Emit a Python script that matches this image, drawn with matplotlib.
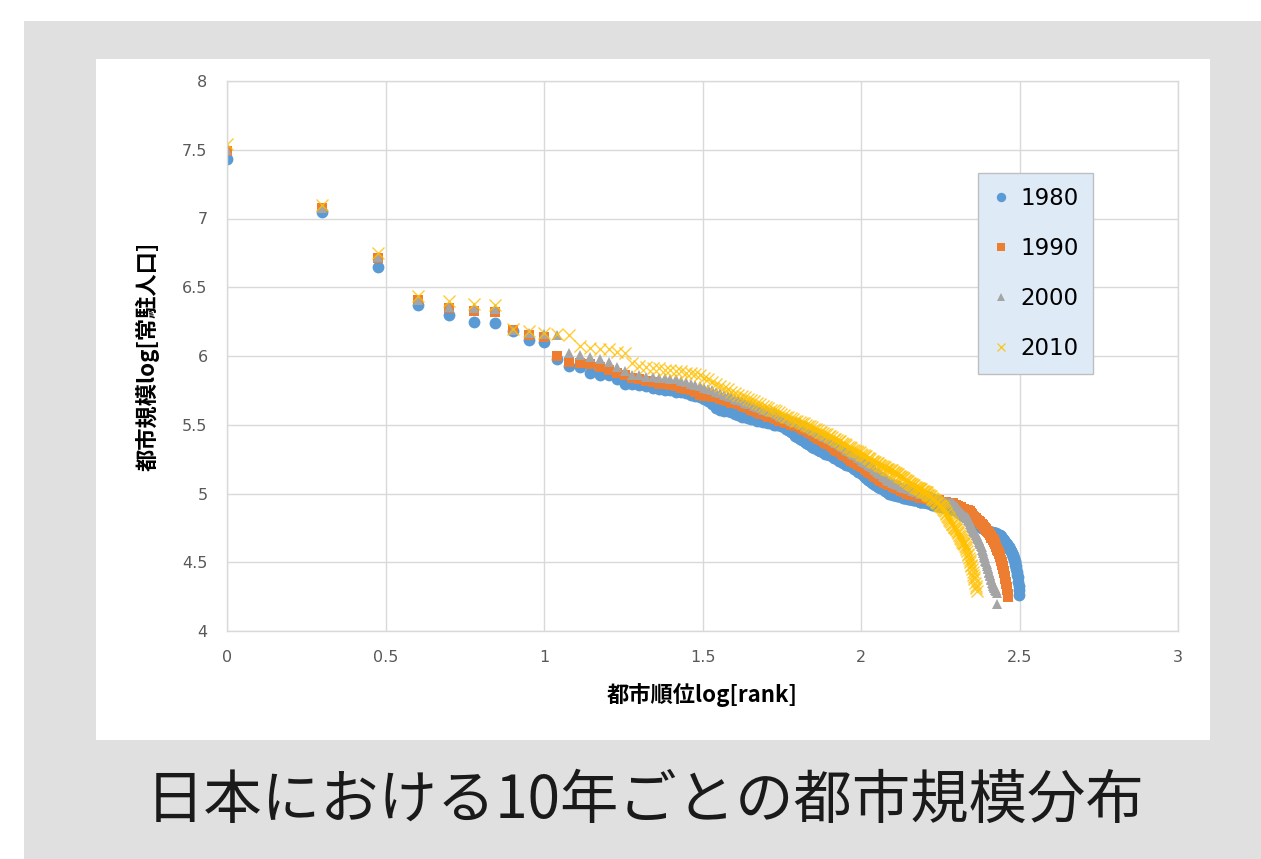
import numpy as np
import matplotlib
matplotlib.use("agg")
from matplotlib import pyplot as plt
from matplotlib.patches import Rectangle

JP = ["Noto Sans CJK JP", "DejaVu Sans"]

# log10(population) by city rank
pop_1980 = [
    7.43, 7.05, 6.65, 6.37, 6.30, 6.25, 6.24, 6.18, 6.12, 6.10,
    5.98, 5.93, 5.92, 5.88, 5.86, 5.86, 5.83, 5.80, 5.80, 5.79,
    5.78, 5.77, 5.76, 5.75, 5.75, 5.74, 5.74, 5.73, 5.72, 5.71,
    5.70, 5.69, 5.67, 5.65, 5.62, 5.61, 5.60, 5.60, 5.59, 5.58,
    5.57, 5.56, 5.56, 5.55, 5.54, 5.54, 5.53, 5.53, 5.52, 5.52,
    5.51, 5.51, 5.50, 5.50, 5.50, 5.49, 5.48, 5.47, 5.46, 5.45,
    5.44, 5.42, 5.41, 5.40, 5.39, 5.38, 5.37, 5.36, 5.35, 5.34,
    5.33, 5.33, 5.32, 5.31, 5.31, 5.30, 5.29, 5.29, 5.28, 5.28,
    5.27, 5.26, 5.26, 5.25, 5.24, 5.24, 5.23, 5.22, 5.22, 5.21,
    5.21, 5.20, 5.20, 5.19, 5.18, 5.18, 5.17, 5.16, 5.16, 5.15,
    5.14, 5.13, 5.12, 5.11, 5.10, 5.10, 5.09, 5.08, 5.08, 5.07,
    5.06, 5.06, 5.05, 5.05, 5.04, 5.04, 5.03, 5.03, 5.02, 5.02,
    5.01, 5.01, 5.00, 5.00, 5.00, 4.99, 4.99, 4.99, 4.99, 4.98,
    4.98, 4.98, 4.98, 4.98, 4.98, 4.97, 4.97, 4.97, 4.97, 4.97,
    4.96, 4.96, 4.96, 4.96, 4.96, 4.95, 4.95, 4.95, 4.95, 4.95,
    4.95, 4.95, 4.94, 4.94, 4.94, 4.94, 4.94, 4.94, 4.94, 4.94,
    4.94, 4.93, 4.93, 4.93, 4.93, 4.93, 4.93, 4.92, 4.92, 4.92,
    4.92, 4.92, 4.92, 4.91, 4.91, 4.91, 4.91, 4.91, 4.91, 4.90,
    4.90, 4.90, 4.90, 4.90, 4.90, 4.90, 4.90, 4.90, 4.89, 4.89,
    4.89, 4.89, 4.89, 4.89, 4.89, 4.89, 4.89, 4.88, 4.88, 4.88,
    4.87, 4.87, 4.87, 4.86, 4.86, 4.86, 4.85, 4.85, 4.85, 4.84,
    4.84, 4.84, 4.83, 4.83, 4.83, 4.82, 4.82, 4.82, 4.82, 4.81,
    4.81, 4.81, 4.80, 4.80, 4.80, 4.80, 4.79, 4.79, 4.79, 4.78,
    4.78, 4.78, 4.77, 4.77, 4.77, 4.77, 4.76, 4.76, 4.76, 4.75,
    4.75, 4.75, 4.75, 4.74, 4.74, 4.74, 4.74, 4.73, 4.73, 4.73,
    4.73, 4.73, 4.72, 4.72, 4.72, 4.72, 4.72, 4.72, 4.72, 4.71,
    4.71, 4.71, 4.71, 4.71, 4.71, 4.71, 4.70, 4.70, 4.70, 4.70,
    4.70, 4.70, 4.70, 4.70, 4.69, 4.69, 4.68, 4.68, 4.67, 4.67,
    4.66, 4.66, 4.65, 4.65, 4.64, 4.64, 4.63, 4.63, 4.62, 4.62,
    4.62, 4.61, 4.61, 4.60, 4.60, 4.59, 4.58, 4.58, 4.57, 4.56,
    4.55, 4.54, 4.53, 4.52, 4.51, 4.50, 4.48, 4.47, 4.45, 4.43,
    4.41, 4.39, 4.36, 4.33, 4.30, 4.26,
]

pop_1990 = [
    7.49, 7.08, 6.71, 6.41, 6.35, 6.33, 6.32, 6.19, 6.15, 6.14,
    6.00, 5.96, 5.95, 5.94, 5.92, 5.90, 5.88, 5.86, 5.84, 5.83,
    5.82, 5.81, 5.80, 5.80, 5.79, 5.78, 5.77, 5.76, 5.75, 5.74,
    5.72, 5.71, 5.71, 5.70, 5.70, 5.69, 5.68, 5.67, 5.66, 5.66,
    5.65, 5.64, 5.63, 5.62, 5.61, 5.60, 5.59, 5.58, 5.58, 5.57,
    5.56, 5.56, 5.55, 5.54, 5.53, 5.53, 5.52, 5.51, 5.51, 5.50,
    5.50, 5.49, 5.49, 5.48, 5.47, 5.46, 5.46, 5.45, 5.44, 5.43,
    5.42, 5.41, 5.40, 5.40, 5.39, 5.38, 5.37, 5.36, 5.36, 5.35,
    5.34, 5.33, 5.32, 5.31, 5.31, 5.30, 5.29, 5.28, 5.27, 5.27,
    5.26, 5.25, 5.24, 5.24, 5.23, 5.22, 5.22, 5.21, 5.21, 5.20,
    5.19, 5.19, 5.18, 5.17, 5.16, 5.16, 5.15, 5.14, 5.14, 5.13,
    5.12, 5.12, 5.11, 5.10, 5.10, 5.09, 5.09, 5.08, 5.08, 5.08,
    5.07, 5.07, 5.06, 5.06, 5.06, 5.05, 5.05, 5.04, 5.04, 5.04,
    5.03, 5.03, 5.03, 5.02, 5.02, 5.02, 5.01, 5.01, 5.01, 5.00,
    5.00, 5.00, 5.00, 4.99, 4.99, 4.99, 4.99, 4.98, 4.98, 4.98,
    4.98, 4.98, 4.98, 4.97, 4.97, 4.97, 4.97, 4.97, 4.97, 4.97,
    4.97, 4.96, 4.96, 4.96, 4.96, 4.96, 4.96, 4.96, 4.95, 4.95,
    4.95, 4.95, 4.95, 4.95, 4.95, 4.95, 4.94, 4.94, 4.94, 4.94,
    4.94, 4.94, 4.94, 4.94, 4.94, 4.93, 4.93, 4.93, 4.93, 4.93,
    4.93, 4.93, 4.93, 4.93, 4.93, 4.92, 4.92, 4.92, 4.92, 4.91,
    4.91, 4.91, 4.91, 4.90, 4.90, 4.90, 4.90, 4.89, 4.89, 4.89,
    4.89, 4.89, 4.88, 4.88, 4.88, 4.88, 4.88, 4.87, 4.87, 4.87,
    4.86, 4.86, 4.85, 4.85, 4.84, 4.84, 4.83, 4.83, 4.82, 4.82,
    4.81, 4.81, 4.80, 4.80, 4.80, 4.79, 4.79, 4.79, 4.78, 4.78,
    4.78, 4.77, 4.77, 4.76, 4.76, 4.75, 4.74, 4.74, 4.73, 4.73,
    4.72, 4.72, 4.71, 4.71, 4.70, 4.70, 4.69, 4.68, 4.68, 4.67,
    4.66, 4.66, 4.65, 4.64, 4.63, 4.62, 4.61, 4.60, 4.59, 4.58,
    4.58, 4.57, 4.56, 4.55, 4.54, 4.52, 4.51, 4.50, 4.48, 4.47,
    4.45, 4.44, 4.42, 4.40, 4.38, 4.36, 4.34, 4.32, 4.30, 4.27,
    4.25,
]

pop_2000 = [
    7.50, 7.08, 6.72, 6.41, 6.36, 6.35, 6.34, 6.19, 6.17, 6.16,
    6.15, 6.02, 6.01, 5.99, 5.98, 5.96, 5.92, 5.89, 5.86, 5.86,
    5.85, 5.85, 5.84, 5.84, 5.83, 5.83, 5.82, 5.81, 5.80, 5.79,
    5.78, 5.77, 5.76, 5.75, 5.74, 5.73, 5.72, 5.71, 5.70, 5.69,
    5.68, 5.67, 5.66, 5.65, 5.65, 5.64, 5.63, 5.62, 5.61, 5.61,
    5.60, 5.59, 5.59, 5.58, 5.57, 5.56, 5.55, 5.55, 5.54, 5.53,
    5.53, 5.52, 5.52, 5.51, 5.50, 5.50, 5.49, 5.48, 5.47, 5.46,
    5.46, 5.45, 5.44, 5.43, 5.43, 5.42, 5.41, 5.41, 5.40, 5.40,
    5.39, 5.38, 5.37, 5.37, 5.36, 5.35, 5.34, 5.34, 5.33, 5.32,
    5.31, 5.31, 5.30, 5.29, 5.28, 5.28, 5.27, 5.26, 5.26, 5.25,
    5.24, 5.23, 5.23, 5.22, 5.21, 5.21, 5.20, 5.19, 5.19, 5.18,
    5.17, 5.16, 5.16, 5.15, 5.14, 5.14, 5.13, 5.12, 5.12, 5.11,
    5.10, 5.10, 5.09, 5.09, 5.08, 5.08, 5.08, 5.07, 5.07, 5.07,
    5.06, 5.06, 5.06, 5.05, 5.05, 5.05, 5.04, 5.04, 5.04, 5.04,
    5.03, 5.03, 5.03, 5.03, 5.02, 5.02, 5.02, 5.02, 5.01, 5.01,
    5.01, 5.01, 5.01, 5.00, 5.00, 5.00, 5.00, 5.00, 5.00, 4.99,
    4.99, 4.99, 4.99, 4.98, 4.98, 4.98, 4.98, 4.97, 4.97, 4.97,
    4.97, 4.96, 4.96, 4.96, 4.96, 4.95, 4.95, 4.95, 4.95, 4.94,
    4.94, 4.94, 4.94, 4.94, 4.93, 4.93, 4.93, 4.93, 4.93, 4.93,
    4.93, 4.93, 4.93, 4.93, 4.93, 4.92, 4.92, 4.91, 4.91, 4.90,
    4.90, 4.89, 4.89, 4.88, 4.87, 4.87, 4.86, 4.86, 4.85, 4.85,
    4.84, 4.84, 4.84, 4.83, 4.83, 4.83, 4.82, 4.81, 4.80, 4.79,
    4.78, 4.77, 4.76, 4.75, 4.74, 4.73, 4.73, 4.72, 4.71, 4.70,
    4.70, 4.69, 4.68, 4.67, 4.66, 4.65, 4.64, 4.63, 4.62, 4.61,
    4.59, 4.58, 4.57, 4.55, 4.54, 4.53, 4.51, 4.50, 4.49, 4.47,
    4.46, 4.45, 4.43, 4.42, 4.41, 4.40, 4.38, 4.37, 4.35, 4.34,
    4.33, 4.32, 4.31, 4.31, 4.30, 4.30, 4.29, 4.28, 4.20,
]

pop_2010 = [
    7.54, 7.10, 6.75, 6.44, 6.40, 6.38, 6.37, 6.20, 6.18, 6.17,
    6.16, 6.15, 6.07, 6.06, 6.05, 6.05, 6.03, 6.02, 5.95, 5.93,
    5.92, 5.91, 5.91, 5.90, 5.90, 5.89, 5.89, 5.88, 5.88, 5.87,
    5.86, 5.84, 5.83, 5.81, 5.80, 5.78, 5.77, 5.76, 5.74, 5.73,
    5.72, 5.71, 5.70, 5.69, 5.68, 5.67, 5.66, 5.65, 5.64, 5.63,
    5.62, 5.61, 5.61, 5.60, 5.59, 5.58, 5.57, 5.56, 5.56, 5.55,
    5.54, 5.53, 5.53, 5.52, 5.51, 5.51, 5.50, 5.49, 5.49, 5.48,
    5.47, 5.47, 5.46, 5.45, 5.45, 5.44, 5.43, 5.43, 5.42, 5.42,
    5.41, 5.40, 5.40, 5.39, 5.38, 5.38, 5.37, 5.36, 5.36, 5.35,
    5.34, 5.34, 5.33, 5.32, 5.32, 5.31, 5.31, 5.30, 5.30, 5.29,
    5.28, 5.28, 5.27, 5.27, 5.26, 5.26, 5.25, 5.24, 5.24, 5.23,
    5.23, 5.22, 5.22, 5.21, 5.21, 5.20, 5.20, 5.19, 5.19, 5.18,
    5.18, 5.18, 5.17, 5.17, 5.17, 5.16, 5.16, 5.15, 5.15, 5.14,
    5.14, 5.13, 5.13, 5.12, 5.12, 5.11, 5.11, 5.10, 5.10, 5.09,
    5.09, 5.08, 5.08, 5.07, 5.07, 5.06, 5.06, 5.05, 5.05, 5.04,
    5.04, 5.04, 5.03, 5.03, 5.03, 5.02, 5.02, 5.02, 5.01, 5.01,
    5.01, 5.00, 4.99, 4.99, 4.98, 4.98, 4.97, 4.96, 4.96, 4.95,
    4.95, 4.94, 4.94, 4.93, 4.93, 4.92, 4.92, 4.91, 4.91, 4.90,
    4.90, 4.89, 4.88, 4.87, 4.86, 4.85, 4.84, 4.83, 4.82, 4.81,
    4.80, 4.79, 4.78, 4.78, 4.77, 4.76, 4.76, 4.75, 4.74, 4.74,
    4.73, 4.72, 4.71, 4.70, 4.69, 4.68, 4.67, 4.66, 4.65, 4.64,
    4.64, 4.63, 4.62, 4.61, 4.60, 4.58, 4.56, 4.55, 4.53, 4.52,
    4.50, 4.48, 4.47, 4.45, 4.43, 4.41, 4.39, 4.38, 4.35, 4.33,
    4.31, 4.29,
]

years = ["1980", "1990", "2000", "2010"]
series = [pop_1980, pop_1990, pop_2000, pop_2010]
colors = ["#5B9BD5", "#ED7D31", "#A5A5A5", "#FFC000"]
markers = ["o", "s", "^", "x"]
msizes = [8.5, 6.5, 7.5, 8]

title = "日本における10年ごとの都市規模分布"
xlabel = "都市順位log[rank]"
ylabel = "都市規模log[常駐人口]"

W, H = 1261, 859
fig = plt.figure(figsize=(W / 100, H / 100), dpi=100, facecolor="white")

# gray slide background and white chart panel, kept behind the axes
fig.patches.append(Rectangle((24 / W, 0), 1, 1 - 21 / H, transform=fig.transFigure,
                             facecolor="#E0E0E0", edgecolor="none", zorder=-2))
fig.patches.append(Rectangle((96 / W, 1 - 740 / H), (1210 - 96) / W, (740 - 59) / H,
                             transform=fig.transFigure, facecolor="white",
                             edgecolor="none", zorder=-1))

ax = fig.add_axes([227 / W, 1 - 631 / H, (1178 - 227) / W, (631 - 81) / H])
ax.set_facecolor("none")
ax.set_zorder(1)

for name, vals, c, m, ms in zip(years, series, colors, markers, msizes):
    rank = np.arange(1, len(vals) + 1)
    if m == "x":
        ax.plot(np.log10(rank), vals, linestyle="none", marker=m, ms=ms,
                color=c, mew=1.0, alpha=0.8, label=name)
    else:
        ax.plot(np.log10(rank), vals, linestyle="none", marker=m, ms=ms,
                color=c, mec=c, mew=0, label=name)

ax.set_xlim(0, 3)
ax.set_ylim(4, 8)
ax.set_xticks(np.arange(0, 3.01, 0.5))
ax.set_yticks(np.arange(4, 8.01, 0.5))
ax.set_xticklabels(["0", "0.5", "1", "1.5", "2", "2.5", "3"])
ax.set_yticklabels(["4", "4.5", "5", "5.5", "6", "6.5", "7", "7.5", "8"])
ax.grid(True, color="#D9D9D9", lw=1)
ax.set_axisbelow(True)
for s in ax.spines.values():
    s.set_color("#D9D9D9")
    s.set_linewidth(1)
ax.tick_params(length=0, labelsize=11.5, labelcolor="#595959", pad=14)

ax.set_xlabel(xlabel, family=JP, fontsize=16, fontweight="bold", labelpad=13)
ax.set_ylabel(ylabel, family=JP, fontsize=16, fontweight="bold", labelpad=16)

leg = ax.legend(loc="upper left", bbox_to_anchor=(978 / W, 1 - 173 / H),
                bbox_transform=fig.transFigure, fontsize=16.5, frameon=True,
                fancybox=False, framealpha=1, borderpad=0.6, labelspacing=1.18,
                handlelength=0.8, handletextpad=0.45, borderaxespad=0,
                markerscale=0.8)
leg.get_frame().set_facecolor("#DEEBF7")
leg.get_frame().set_edgecolor("#BFBFBF")

fig.text(645 / W, 1 - 801 / H, title, family=JP, fontsize=42,
         ha="center", va="center", color="#1A1A1A")

fig.savefig("out.png", dpi=100, facecolor="white")
